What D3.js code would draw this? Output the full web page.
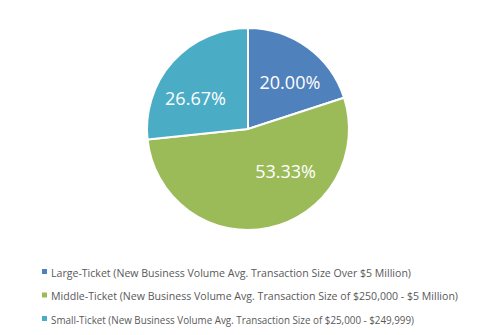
<!DOCTYPE html>
<html>
<head>
<meta charset="utf-8">
<script src="https://cdn.jsdelivr.net/npm/d3@7"></script>
<style>
  html, body { margin: 0; padding: 0; background: #fff; }
  svg { display: block; }
</style>
</head>
<body>
<svg id="chart" width="497" height="335"></svg>
<script>
// Share of new business volume by ticket size
const categories = [
  "Large-Ticket (New Business Volume Avg. Transaction Size Over $5 Million)",
  "Middle-Ticket (New Business Volume Avg. Transaction Size of $250,000 - $5 Million)",
  "Small-Ticket (New Business Volume Avg. Transaction Size of $25,000 - $249,999)"
];
const shares = [20.00, 53.33, 26.67];
const colors = ["#4F81BD", "#9BBB59", "#4BACC6"];

const svg = d3.select("#chart");
const cx = 248, cy = 129, radius = 101;

const pie = d3.pie().sort(null).value(d => d);
const arcs = pie(shares);
const arc = d3.arc().innerRadius(0).outerRadius(radius);

const g = svg.append("g").attr("transform", `translate(${cx},${cy})`);

g.selectAll("path.slice")
  .data(arcs)
  .join("path")
  .attr("class", "slice")
  .attr("d", arc)
  .attr("fill", (d, i) => colors[i])
  .attr("stroke", "#fff")
  .attr("stroke-width", 2)
  .attr("stroke-linejoin", "round");

// Label placement: angle shift (radians) and radius used for each slice's label
const labelShift = [0.1, -0.525, -0.2];
const labelRadius = [63, 56, 61];
g.selectAll("text.value")
  .data(arcs)
  .join("text")
  .attr("class", "value")
  .attr("x", (d, i) => {
    const a = (d.startAngle + d.endAngle) / 2 + labelShift[i];
    return Math.sin(a) * labelRadius[i];
  })
  .attr("y", (d, i) => {
    const a = (d.startAngle + d.endAngle) / 2 + labelShift[i];
    return -Math.cos(a) * labelRadius[i];
  })
  .attr("text-anchor", "middle")
  .attr("dominant-baseline", "central")
  .attr("fill", "#fff")
  .attr("font-family", "'Open Sans', 'Liberation Sans', sans-serif")
  .attr("font-size", 18)
  .text(d => d.data.toFixed(2) + "%");

// Legend
const legendY = d3.scalePoint().domain(d3.range(categories.length)).range([272, 319]);
const lg = svg.append("g");
const rows = lg.selectAll("g.row")
  .data(categories)
  .join("g")
  .attr("class", "row")
  .attr("transform", (d, i) => `translate(42,${legendY(i)})`);

rows.append("rect")
  .attr("x", 0).attr("y", -3)
  .attr("width", 5).attr("height", 5)
  .attr("fill", (d, i) => colors[i]);

const textWidths = [360, 407, 363];
rows.append("text")
  .attr("x", 9)
  .attr("y", 0)
  .attr("dominant-baseline", "central")
  .attr("fill", "#595959")
  .attr("font-family", "'Open Sans', 'Liberation Sans', sans-serif")
  .attr("font-size", 11.5)
  .attr("textLength", (d, i) => textWidths[i])
  .attr("lengthAdjust", "spacingAndGlyphs")
  .text(d => d);
</script>
</body>
</html>
